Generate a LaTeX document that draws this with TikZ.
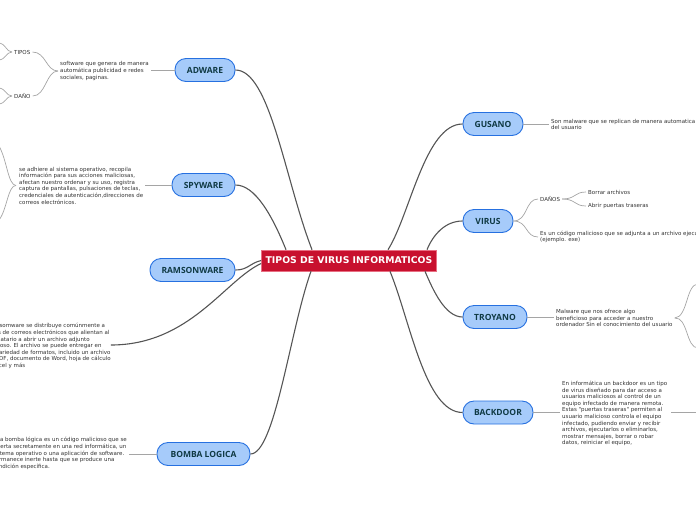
\documentclass[tikz,border=0pt]{standalone}
\usepackage{fontspec}
\newfontfamily\descfont{DejaVu Sans}
\newfontfamily\labfont{Open Sans}
\newfontfamily\centfont{DejaVu Sans}
\definecolor{pillfill}{RGB}{166,203,250}
\definecolor{pillborder}{RGB}{38,112,224}
\definecolor{labtext}{RGB}{16,58,68}
\definecolor{centfill}{RGB}{200,16,46}
\definecolor{centborder}{RGB}{232,110,130}
\definecolor{desctext}{RGB}{50,50,50}
\definecolor{linkdark}{RGB}{85,85,85}
\definecolor{linklight}{RGB}{165,165,165}
\begin{document}
\begin{tikzpicture}[x=1pt,y=-1pt,
  pill/.style={draw=pillborder, fill=pillfill, line width=0.9pt, rounded corners=11pt,
    minimum height=23pt, inner sep=0pt, font=\labfont\bfseries\fontsize{8.5}{10}\selectfont, text=labtext},
  desc/.style={font=\descfont\fontsize{5.5}{6.6}\selectfont, text=desctext, align=left, inner sep=0pt, anchor=west},
  mainlink/.style={draw=linkdark, line width=1.1pt},
  sublink/.style={draw=linklight, line width=0.7pt}]
\useasboundingbox (0,0) rectangle (696,520);
\clip (0,0) rectangle (696,520);

% central
\node[draw=centborder, fill=centfill, line width=0.6pt, minimum width=175pt, minimum height=21pt,
  inner sep=0pt, text=white, font=\centfont\bfseries\fontsize{9.3}{10}\selectfont] (center) at (349,260.5) {TIPOS DE VIRUS INFORMATICOS};

% main topics
\node[pill, minimum width=60pt] (adware) at (205,70) {ADWARE};
\node[pill, minimum width=63pt] (spyware) at (203.5,185) {SPYWARE};
\node[pill, minimum width=85pt] (ramson) at (192.5,270) {RAMSONWARE};
\node[pill, minimum width=93pt] (bomba) at (203.5,454) {BOMBA LOGICA};
\node[pill, minimum width=60pt] (gusano) at (493,124) {GUSANO};
\node[pill, minimum width=50pt] (virus) at (488,221) {VIRUS};
\node[pill, minimum width=64pt] (troyano) at (495,317) {TROYANO};
\node[pill, minimum width=70pt] (backdoor) at (498,412.5) {BACKDOOR};

% descriptions
\node[desc] (adtext) at (60,71) {software que genera de manera\\automática publicidad e redes\\sociales, paginas.};
\node[desc] (tipos) at (14,52) {TIPOS};
\node[desc] (dano) at (14,96) {DAÑO};
\node[desc] (spytext) at (19,185.5) {se adhiere al sistema operativo, recopila\\información para sus acciones maliciosas,\\afectan nuestro ordenar y su uso, registra\\captura de pantallas, pulsaciones de teclas,\\credenciales de autenticación,direcciones de\\correos electrónicos.};
\node[desc] (ramtext) at (-16.5,346) {El ransomware se distribuye comúnmente a\\través de correos electrónicos que alientan al\\destinatario a abrir un archivo adjunto\\malicioso. El archivo se puede entregar en\\una variedad de formatos, incluido un archivo\\ZIP, PDF, documento de Word, hoja de cálculo\\de Excel y más};
\node[desc] (bombtext) at (-7.7,453.5) {Una bomba lógica es un código malicioso que se\\inserta secretamente en una red informática, un\\sistema operativo o una aplicación de software.\\Permanece inerte hasta que se produce una\\condición específica.};
\node[desc] (gustext) at (551,124.5) {Son malware que se replican de manera automatica\\del usuario};
\node[desc] (danos) at (540,199) {DAÑOS};
\node[desc] (borrar) at (588,192) {Borrar archivos};
\node[desc] (abrir) at (588,206) {Abrir puertas traseras};
\node[desc] (virtext) at (540,237) {Es un código malicioso que se adjunta a un archivo ejecutable\\(ejemplo. exe)};
\node[desc] (trotext) at (556,318) {Malware que nos ofrece algo\\beneficioso para acceder a nuestro\\ordenador Sin el conocimiento del usuario};
\node[desc] (backtext) at (562,413.5) {En informática un backdoor es un tipo\\de virus diseñado para dar acceso a\\usuarios maliciosos al control de un\\equipo infectado de manera remota.\\Estas "puertas traseras" permiten al\\usuario malicioso controla el equipo\\infectado, pudiendo enviar y recibir\\archivos, ejecutarlos o eliminarlos,\\mostrar mensajes, borrar o robar\\datos, reiniciar el equipo,};

% free ends
\coordinate (tipA) at (-2,43);
\coordinate (tipB) at (-2,60);
\coordinate (danA) at (-2,88);
\coordinate (danB) at (-2,104);
\coordinate (spyA) at (-1,146);
\coordinate (spyB) at (-1,220);
\coordinate (troA) at (698,284);
\coordinate (troB) at (698,348);
\coordinate (backE) at (698,412.5);

% main links
\draw[mainlink] (adware.east) .. controls (270,70) and (285,180) .. ([xshift=-37pt]center.north);
\draw[mainlink] (spyware.east) .. controls (255,185) and (272,215) .. ([xshift=-63pt]center.north);
\draw[mainlink] (ramson.east) .. controls (248,270) and (250,263) .. (center.west);
\draw[mainlink] ([yshift=-3pt]center.west) .. controls (225,280) and (190,345) .. (ramtext.east|-0,345);
\draw[mainlink] (bomba.east) .. controls (275,454) and (290,330) .. ([xshift=-38pt]center.south);
\draw[mainlink] (gusano.west) .. controls (425,124) and (410,215) .. ([xshift=39pt]center.north);
\draw[mainlink] (virus.west) .. controls (445,221) and (433,235) .. ([xshift=78pt]center.north);
\draw[mainlink] (troyano.west) .. controls (445,317) and (433,290) .. ([xshift=76pt]center.south);
\draw[mainlink] (backdoor.west) .. controls (425,412.5) and (410,320) .. ([xshift=41pt]center.south);

% sub links
\draw[sublink] (adware.west) -- ([xshift=2pt]adtext.east|-adware.west);
\draw[sublink] ([xshift=-2pt]adtext.west) .. controls (46,71) and (46,52) .. ([xshift=2pt]tipos.east);
\draw[sublink] ([xshift=-2pt]adtext.west) .. controls (46,71) and (46,96) .. ([xshift=2pt]dano.east);
\draw[sublink] ([xshift=-2pt]tipos.west) .. controls (6,52) and (6,43) .. (tipA);
\draw[sublink] ([xshift=-2pt]tipos.west) .. controls (6,52) and (6,60) .. (tipB);
\draw[sublink] ([xshift=-2pt]dano.west) .. controls (6,96) and (6,88) .. (danA);
\draw[sublink] ([xshift=-2pt]dano.west) .. controls (6,96) and (6,104) .. (danB);
\draw[sublink] (spyware.west) -- ([xshift=2pt]spytext.east|-spyware.west);
\draw[sublink] ([xshift=-3pt]spytext.west) .. controls (8,185) and (7,160) .. (spyA);
\draw[sublink] ([xshift=-3pt]spytext.west) .. controls (8,185) and (7,210) .. (spyB);
\draw[sublink] (bomba.west) -- ([xshift=2pt]bombtext.east|-bomba.west);
\draw[sublink] (gusano.east) -- ([xshift=-2pt]gustext.west|-gusano.east);
\draw[sublink] (virus.east) .. controls (528,221) and (525,199) .. ([xshift=-2pt]danos.west);
\draw[sublink] (virus.east) .. controls (528,221) and (525,237) .. ([xshift=-2pt]virtext.west);
\draw[sublink] ([xshift=2pt]danos.east) .. controls (576,199) and (574,192) .. ([xshift=-2pt]borrar.west);
\draw[sublink] ([xshift=2pt]danos.east) .. controls (576,199) and (574,206) .. ([xshift=-2pt]abrir.west);
\draw[sublink] (troyano.east) -- ([xshift=-2pt]trotext.west|-troyano.east);
\draw[sublink] ([xshift=2pt]trotext.east) .. controls (688,317) and (686,284) .. (troA);
\draw[sublink] ([xshift=2pt]trotext.east) .. controls (688,317) and (686,348) .. (troB);
\draw[sublink] (backdoor.east) -- ([xshift=-2pt]backtext.west|-backdoor.east);
\draw[sublink] ([xshift=4pt]backtext.east|-backdoor.east) -- (backE);
\end{tikzpicture}
\end{document}
